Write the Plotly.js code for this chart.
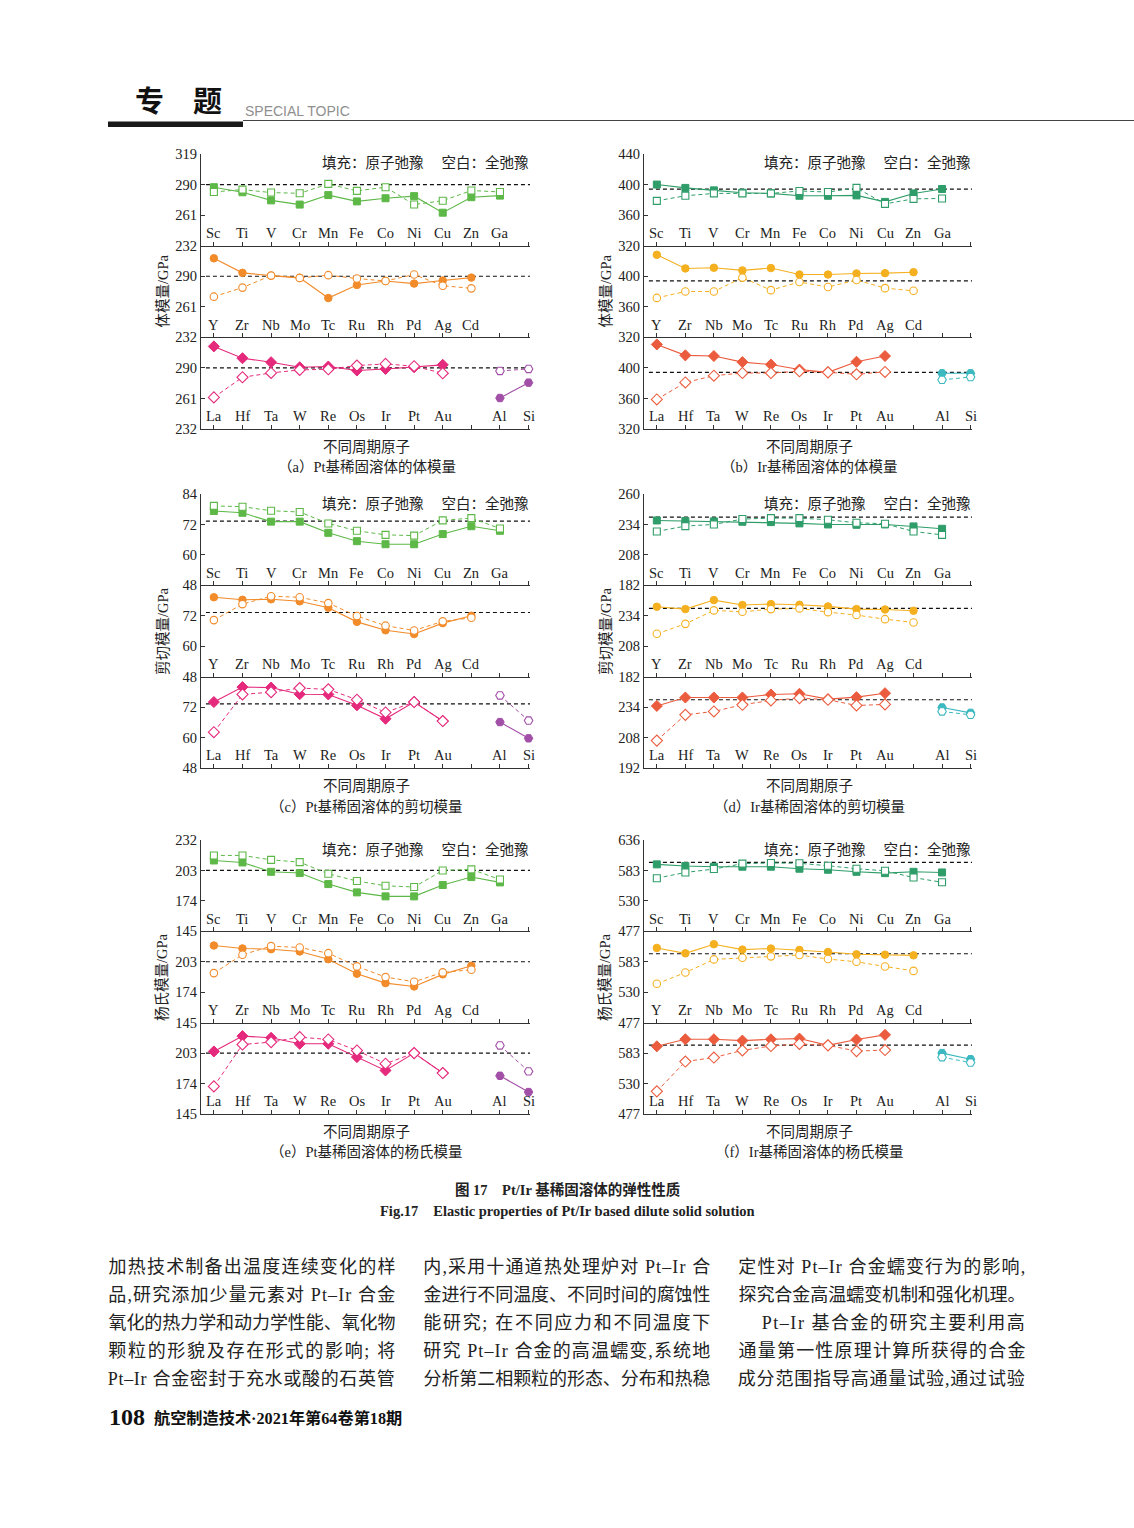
<!DOCTYPE html>
<html><head><meta charset="utf-8">
<script src="https://cdn.plot.ly/plotly-3.0.1.min.js"></script>
<style>html,body{margin:0;padding:0;background:#fff}#c{width:1134px;height:1528px}</style>
</head><body><div id="c"></div>
<script>
// ---------- categories ----------
const row3d = ["Sc","Ti","V","Cr","Mn","Fe","Co","Ni","Cu","Zn","Ga"];
const row4d = ["Y","Zr","Nb","Mo","Tc","Ru","Rh","Pd","Ag","Cd"];
const row5d = ["La","Hf","Ta","W","Re","Os","Ir","Pt","Au"];
const rowSp = ["Al","Si"];
const spSlots = [10, 11];

// ---------- (a) Pt bulk modulus ----------
const ptBulk3dAtom = [287.5,282.7,275,271,280,274,277,279,263.3,278,279.5];
const ptBulk3dFull = [283,285.2,282.4,281.7,290.6,284,287.5,271,274.7,284.3,283];
const ptBulk4dAtom = [307,293.2,290.6,288.4,269.3,281.7,285.5,283,285.9,288.7];
const ptBulk4dFull = [270.6,279.2,290.6,288.4,291,287.8,285.5,291.6,281,278.5];
const ptBulk5dAtom = [310.4,299.2,295.4,290.6,291.3,287.5,289,290.6,292.9];
const ptBulk5dFull = [262,281.1,285.2,288.1,288.7,292.2,293.8,291.6,284.9];
const ptBulkSpAtom = [261.4,276];
const ptBulkSpFull = [287.1,289];
const ptBulkRef = 290;
const ptBulkTicks = [232,261,290,319];

// ---------- (b) Ir bulk modulus ----------
const irBulk3dAtom = [400,395.6,392.4,389.3,388.4,385.3,385.3,385.8,377.3,388.4,394.2];
const irBulk3dFull = [378.7,385.3,388.4,388.4,388.4,391.6,390.2,395.6,374.7,381.3,381.8];
const irBulk4dAtom = [428,410.2,411.1,407.6,410.7,402.2,402.2,403.6,404,405.3];
const irBulk4dFull = [371.6,380,380,398.2,381.8,392.4,385.8,395.1,384.4,380.9];
const irBulk5dAtom = [430.7,416.4,415.5,407.6,404.4,397.8,394.2,408,415.5];
const irBulk5dFull = [358.7,380.9,389.8,393.3,393.3,395.6,394.2,391.6,394.7];
const irBulkSpAtom = [392.9,392.9];
const irBulkSpFull = [384.4,388];
const irBulkRef = 394;
const irBulkTicks = [320,360,400,440];

// ---------- (c) Pt shear modulus ----------
const ptShear3dAtom = [77.3,76.6,73.1,73.1,68.7,65.4,64.2,64.2,68.2,71.3,69.5];
const ptShear3dFull = [79.3,79,77.4,76.9,72.4,69.5,67.9,67.6,73.6,74.5,70.4];
const ptShear4dAtom = [79.3,78.3,78.5,77.7,75.2,69.6,66.3,64.8,69.1,72];
const ptShear4dFull = [70.3,76.6,79.7,79.3,77,71.9,68.1,66.2,69.8,71.2];
const ptShear5dAtom = [74,79.9,79.7,77.1,77,72.7,67.4,74,66.5];
const ptShear5dFull = [62.1,77,77.9,79.5,79,74.9,69.9,74,66.5];
const ptShearSpAtom = [66.1,59.7];
const ptShearSpFull = [76.6,66.7];
const ptShearRef = 73.3;
const ptShearTicks = [48,60,72,84];

// ---------- (d) Ir shear modulus ----------
const irShear3dAtom = [237.4,236.9,236.6,236.3,236,234.9,234,233.7,234,232.3,230.3];
const irShear3dFull = [228,232.6,234,238.6,239.4,239.4,238,235.4,234.6,228,225.1];
const irShear4dAtom = [241.7,239.7,247.4,243.2,244,243.4,242,239.7,239.4,238.3];
const irShear4dFull = [218.6,227.1,238.6,237.4,239.7,240.3,237.1,234.6,231.1,228.3];
const irShear5dAtom = [235,242.2,242.2,242.2,244.8,245.4,240.8,242.5,245.9];
const irShear5dFull = [205.4,227.4,230.3,236,239.7,241.7,240.3,235.4,236.3];
const irShearSpAtom = [233.7,229.1];
const irShearSpFull = [230.3,227.4];
const irShearRef = 240.3;
const irShearTicks = [182,208,234,260];
const irShearBottomLabel = "192";

// ---------- (e) Pt Young's modulus ----------
const ptYoung3dAtom = [212.5,210.6,201.7,200.5,190,182.1,178.3,178.3,189.1,196.7,191.6];
const ptYoung3dFull = [217.3,217.3,213.1,210.9,199.8,192.9,188.4,187.2,203,204,194.4];
const ptYoung4dAtom = [218.5,215.7,215,212.8,205.5,191.6,182.7,179.5,191,199.2];
const ptYoung4dFull = [192.2,209.7,217.9,216.6,211.2,198.6,188.4,184,192.9,195.4];
const ptYoung5dAtom = [204.6,219.2,217.6,211.9,211.9,199.2,186.5,203,184];
const ptYoung5dFull = [171.3,211.2,213.5,218.2,216,205.5,192.9,203,184];
const ptYoungSpAtom = [181.4,165.9];
const ptYoungSpFull = [210.3,185.6];
const ptYoungRef = 203;
const ptYoungTicks = [145,174,203,232];

// ---------- (f) Ir Young's modulus ----------
const irYoung3dAtom = [593.6,590.7,589.5,589.5,589.5,586,584.2,580.6,578.3,580.6,579.5];
const irYoung3dFull = [569.5,579.5,585.4,594.8,596,595.4,591.2,586,582.4,570.6,562.4];
const irYoung4dAtom = [607.1,597.7,613.6,604.2,606,603.6,600.1,596,595.4,594.2];
const irYoung4dFull = [544.7,564.2,587.1,590.1,592.4,594.8,587.7,583,574.8,567.1];
const irYoung5dAtom = [594.8,607.1,607.1,604.8,607.1,608.3,596.5,606.6,614.8];
const irYoung5dFull = [516.4,568.3,575.3,587.7,595.4,598.9,596.5,586.5,588.3];
const irYoungSpAtom = [583,572.4];
const irYoungSpFull = [575.9,566.5];
const irYoungRef = 597;
const irYoungTicks = [477,530,583,636];

// ---------- texts ----------
const legendText = "填充：原子弛豫　 空白：全弛豫";
const xTitle = "不同周期原子";
const yTitles = ["体模量/GPa","体模量/GPa","剪切模量/GPa","剪切模量/GPa","杨氏模量/GPa","杨氏模量/GPa"];
const captions = ["（a）Pt基稀固溶体的体模量","（b）Ir基稀固溶体的体模量","（c）Pt基稀固溶体的剪切模量","（d）Ir基稀固溶体的剪切模量","（e）Pt基稀固溶体的杨氏模量","（f）Ir基稀固溶体的杨氏模量"];
const figTitleCn = "图 17　Pt/Ir 基稀固溶体的弹性性质";
const figTitleEn = "Fig.17　Elastic properties of Pt/Ir based dilute solid solution";
const col1 = ["加热技术制备出温度连续变化的样","品,研究添加少量元素对 Pt–Ir 合金","氧化的热力学和动力学性能、氧化物","颗粒的形貌及存在形式的影响; 将","Pt–Ir 合金密封于充水或酸的石英管"];
const col2 = ["内,采用十通道热处理炉对 Pt–Ir 合","金进行不同温度、不同时间的腐蚀性","能研究; 在不同应力和不同温度下","研究 Pt–Ir 合金的高温蠕变,系统地","分析第二相颗粒的形态、分布和热稳"];
const col3 = ["定性对 Pt–Ir 合金蠕变行为的影响,","探究合金高温蠕变机制和强化机理。","Pt–Ir 基合金的研究主要利用高","通量第一性原理计算所获得的合金","成分范围指导高通量试验,通过试验"];

// ---------- build ----------
const W = 1134, H = 1528;
const PX = x => x / W, PY = y => 1 - y / H;
const SERIF = "Liberation Serif, Times New Roman, Noto Sans CJK SC, serif";
const CJK = "Liberation Serif, Noto Sans CJK SC, sans-serif";

const ptColors = ["#5DB847","#F28B2A","#E5297C","#A24FA7"];
const irColors = ["#2F9D69","#F5B020","#EB5C3E","#3CB8C0"];

const panelTable = [
  {sets:[[ptBulk3dAtom,ptBulk3dFull],[ptBulk4dAtom,ptBulk4dFull],[ptBulk5dAtom,ptBulk5dFull],[ptBulkSpAtom,ptBulkSpFull]], ref:ptBulkRef, ticks:ptBulkTicks, colors:ptColors},
  {sets:[[irBulk3dAtom,irBulk3dFull],[irBulk4dAtom,irBulk4dFull],[irBulk5dAtom,irBulk5dFull],[irBulkSpAtom,irBulkSpFull]], ref:irBulkRef, ticks:irBulkTicks, colors:irColors},
  {sets:[[ptShear3dAtom,ptShear3dFull],[ptShear4dAtom,ptShear4dFull],[ptShear5dAtom,ptShear5dFull],[ptShearSpAtom,ptShearSpFull]], ref:ptShearRef, ticks:ptShearTicks, colors:ptColors},
  {sets:[[irShear3dAtom,irShear3dFull],[irShear4dAtom,irShear4dFull],[irShear5dAtom,irShear5dFull],[irShearSpAtom,irShearSpFull]], ref:irShearRef, ticks:irShearTicks, colors:irColors, bottomLabel:irShearBottomLabel},
  {sets:[[ptYoung3dAtom,ptYoung3dFull],[ptYoung4dAtom,ptYoung4dFull],[ptYoung5dAtom,ptYoung5dFull],[ptYoungSpAtom,ptYoungSpFull]], ref:ptYoungRef, ticks:ptYoungTicks, colors:ptColors},
  {sets:[[irYoung3dAtom,irYoung3dFull],[irYoung4dAtom,irYoung4dFull],[irYoung5dAtom,irYoung5dFull],[irYoungSpAtom,irYoungSpFull]], ref:irYoungRef, ticks:irYoungTicks, colors:irColors}
];

const geo = [
  {L:201,R:530,T:154,B:429},{L:644,R:972,T:154,B:429},
  {L:201,R:530,T:494,B:768},{L:644,R:972,T:494,B:768},
  {L:201,R:530,T:840,B:1114},{L:644,R:972,T:840,B:1114}
];
const rows = [row3d, row4d, row5d];
const symbols = ["square","circle","diamond"];
const sizes = [7,7.5,8.5];

const traces = [], layout = {
  width: W, height: H, margin:{l:0,r:0,t:0,b:0},
  paper_bgcolor:"#fff", plot_bgcolor:"rgba(0,0,0,0)", showlegend:false,
  shapes:[], annotations:[]
};
const A = layout.annotations;

panelTable.forEach((P, p) => {
  const g = geo[p];
  const h = (g.B - g.T) / 3;
  for (let s = 0; s < 3; s++) {
    const n = p*3 + s + 1;
    const xn = "x" + (n===1?"":n), yn = "y" + (n===1?"":n);
    const top = g.T + s*h, bot = g.T + (s+1)*h;
    const tv = s===0 ? P.ticks.slice() : P.ticks.slice(0,3);
    const tt = tv.map(String);
    if (s===2 && P.bottomLabel) tt[0] = P.bottomLabel;
    layout["xaxis"+(n===1?"":n)] = {
      domain:[PX(g.L), PX(g.R)], anchor: yn, range:[-0.45, 11.05],
      tickmode:"array", tickvals:[0,1,2,3,4,5,6,7,8,9,10,11], showticklabels:false,
      ticks:"inside", ticklen:4, tickcolor:"#333", showline:true, linecolor:"#333", linewidth:1,
      showgrid:false, zeroline:false, fixedrange:true
    };
    layout["yaxis"+(n===1?"":n)] = {
      domain:[PY(bot), PY(top)], anchor: xn, range:[P.ticks[0], P.ticks[3]],
      tickmode:"array", tickvals: tv, ticktext: tt,
      ticks:"inside", ticklen:4, tickcolor:"#333", showline:true, linecolor:"#333", linewidth:1,
      showgrid:false, zeroline:false, tickfont:{family:SERIF, size:14.5, color:"#222"}, fixedrange:true
    };
    // element labels
    const names = rows[s];
    names.forEach((nm,k)=>A.push({xref:xn, yref:yn+" domain", x:k, y:0.14, xanchor:"center", yanchor:"middle",
      showarrow:false, text:nm, font:{family:SERIF,size:14.5,color:"#222"}}));
    if (s===2) rowSp.forEach((nm,k)=>A.push({xref:xn, yref:yn+" domain", x:spSlots[k], y:0.14, xanchor:"center", yanchor:"middle",
      showarrow:false, text:nm, font:{family:SERIF,size:14.5,color:"#222"}}));
    // reference dashed line
    layout.shapes.push({type:"line", xref: xn+" domain", yref: yn, x0:0.015, x1:1, y0:P.ref, y1:P.ref,
      line:{color:"#111", width:1.2, dash:"4px,3px"}, layer:"below"});
    const col = P.colors[s];
    const [atom, full] = P.sets[s];
    traces.push({type:"scatter", mode:"lines+markers", x:atom.map((_,i)=>i), y:atom, xaxis:xn, yaxis:yn,
      line:{color:col, width:1.1}, marker:{symbol:symbols[s], size:sizes[s], color:col, line:{color:col,width:1}}, cliponaxis:false});
    traces.push({type:"scatter", mode:"lines+markers", x:full.map((_,i)=>i), y:full, xaxis:xn, yaxis:yn,
      line:{color:col, width:1, dash:"4px,3px"}, marker:{symbol:symbols[s], size:sizes[s], color:"#fff", line:{color:col,width:1.1}}, cliponaxis:false});
    if (s===2) {
      const c2 = P.colors[3];
      const [sa, sf] = P.sets[3];
      traces.push({type:"scatter", mode:"lines+markers", x:spSlots, y:sa, xaxis:xn, yaxis:yn,
        line:{color:c2, width:1.1}, marker:{symbol:"hexagon2", size:8.5, color:c2, line:{color:c2,width:1}}, cliponaxis:false});
      traces.push({type:"scatter", mode:"lines+markers", x:spSlots, y:sf, xaxis:xn, yaxis:yn,
        line:{color:c2, width:1, dash:"4px,3px"}, marker:{symbol:"hexagon2", size:8.5, color:"#fff", line:{color:c2,width:1.1}}, cliponaxis:false});
    }
  }
  A.push({xref:"paper",yref:"paper",x:PX(g.R+1),y:PY(g.T+9),xanchor:"right",yanchor:"middle",showarrow:false,
    text:legendText,font:{family:CJK,size:14.5,color:"#222"}});
  A.push({xref:"paper",yref:"paper",x:PX(g.L-39),y:PY((g.T+g.B)/2),xanchor:"center",yanchor:"middle",showarrow:false,
    text:yTitles[p],textangle:-90,font:{family:CJK,size:14.5,color:"#222"}});
  A.push({xref:"paper",yref:"paper",x:PX((g.L+g.R)/2+1),y:PY(g.B+18),xanchor:"center",yanchor:"middle",showarrow:false,
    text:xTitle,font:{family:CJK,size:14.5,color:"#222"}});
  A.push({xref:"paper",yref:"paper",x:PX((g.L+g.R)/2+1),y:PY(g.B+38),xanchor:"center",yanchor:"middle",showarrow:false,
    text:captions[p],font:{family:CJK,size:14.5,color:"#222"}});
});

// header
layout.shapes.push({type:"rect",xref:"paper",yref:"paper",x0:PX(108),x1:PX(243),y0:PY(127),y1:PY(121.5),fillcolor:"#1a1a1a",line:{width:0}});
layout.shapes.push({type:"line",xref:"paper",yref:"paper",x0:PX(243),x1:PX(1134),y0:PY(120.5),y1:PY(120.5),line:{color:"#444",width:1}});
A.push({xref:"paper",yref:"paper",x:PX(133),y:PY(99),xanchor:"left",yanchor:"middle",showarrow:false,
  text:"<b>专　题</b>",font:{family:"Noto Sans CJK SC",size:29,color:"#111"}});
A.push({xref:"paper",yref:"paper",x:PX(243),y:PY(111),xanchor:"left",yanchor:"middle",showarrow:false,
  text:"SPECIAL TOPIC",font:{family:"Liberation Sans Narrow, Liberation Sans, sans-serif",size:14,color:"#8f8f8f"}});
// figure caption
A.push({xref:"paper",yref:"paper",x:PX(567),y:PY(1189),xanchor:"center",yanchor:"middle",showarrow:false,
  text:"<b>"+figTitleCn+"</b>",font:{family:CJK,size:14.5,color:"#222"}});
A.push({xref:"paper",yref:"paper",x:PX(567),y:PY(1211),xanchor:"center",yanchor:"middle",showarrow:false,
  text:"<b>"+figTitleEn+"</b>",font:{family:"Liberation Serif, serif",size:14.5,color:"#222"}});
// body text (justified after render)
const justify = [];
const colL = [108, 423, 738], colW = 287;
[col1,col2,col3].forEach((col,ci)=>{
  col.forEach((line,li)=>{
    let left = colL[ci], w = colW;
    if (ci===2 && li===2) { left += 24; w -= 24; }
    justify.push({idx:A.length, w:w});
    A.push({xref:"paper",yref:"paper",x:PX(left + w/2),y:PY(1267+li*28),xanchor:"center",yanchor:"middle",showarrow:false,
      text:line,font:{family:CJK,size:18,color:"#222"}});
  });
});
// footer
A.push({xref:"paper",yref:"paper",x:PX(107),y:PY(1417),xanchor:"left",yanchor:"middle",showarrow:false,
  text:"<b>108</b>",font:{family:"Liberation Serif, serif",size:24,color:"#111"}});
A.push({xref:"paper",yref:"paper",x:PX(152),y:PY(1418),xanchor:"left",yanchor:"middle",showarrow:false,
  text:"<b>航空制造技术·2021年第64卷第18期</b>",font:{family:CJK,size:16.2,color:"#111"}});

Plotly.newPlot("c", traces, layout, {staticPlot:true, displayModeBar:false}).then(gd=>{
  justify.forEach(j=>{
    const t = gd.querySelector('g.annotation[data-index="'+j.idx+'"] text.annotation-text');
    if (t) { t.setAttribute("textLength", j.w); t.setAttribute("lengthAdjust","spacing"); }
  });
});
</script></body></html>
